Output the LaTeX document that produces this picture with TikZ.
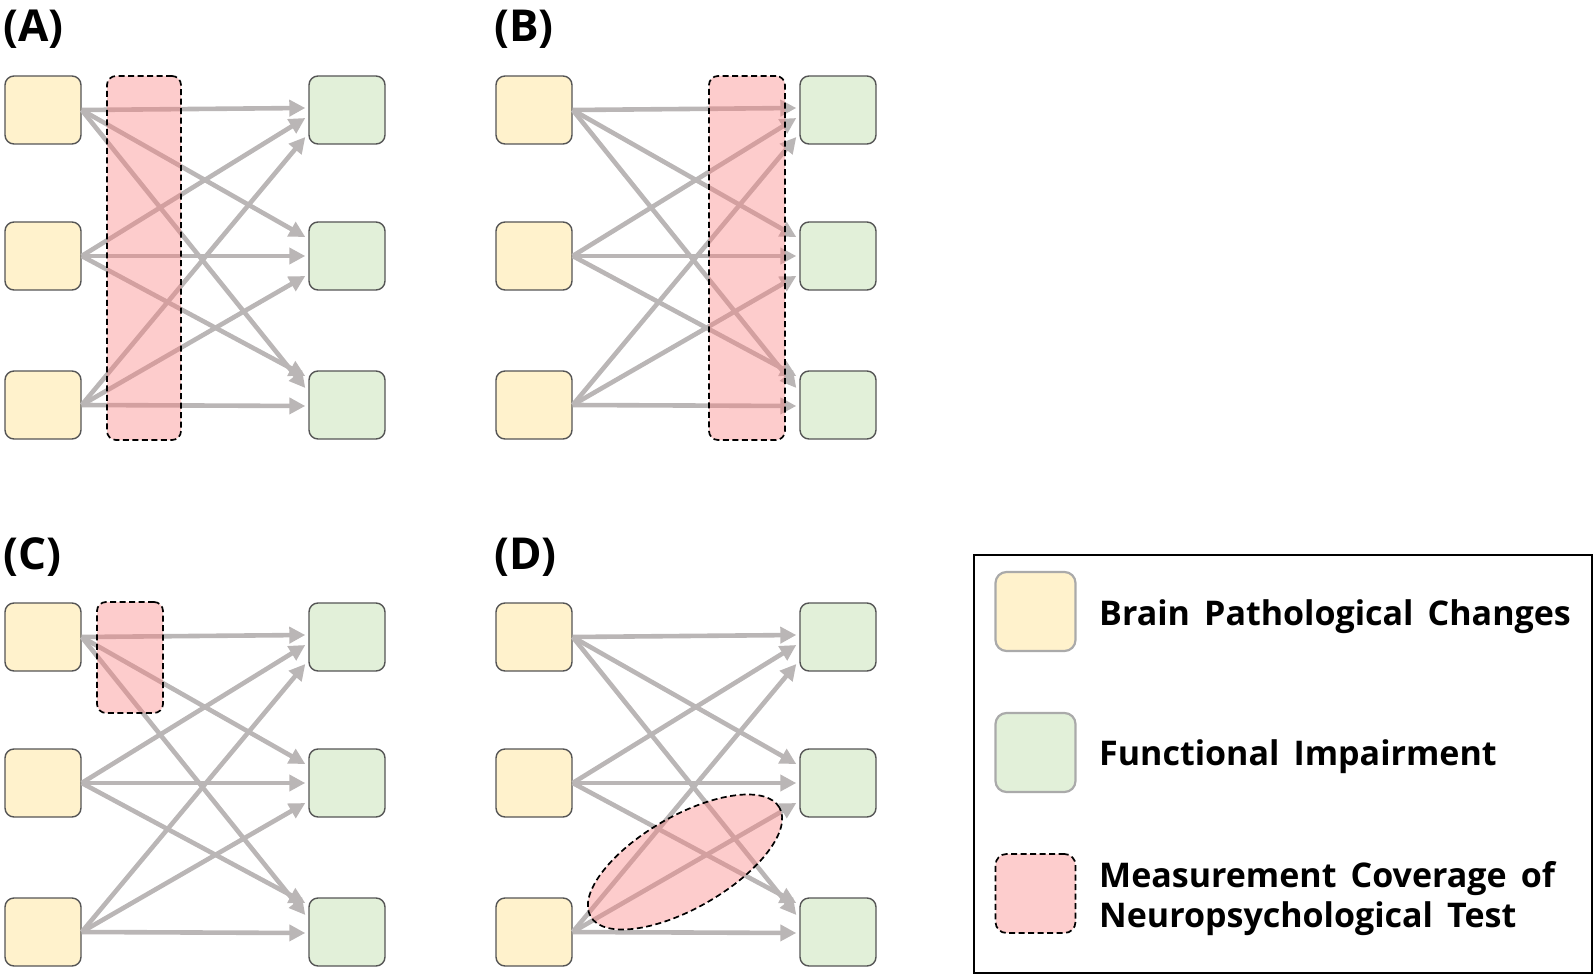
\documentclass[tikz,border=0pt]{standalone}
\usepackage{fontspec}
\setmainfont{Open Sans}[WordSpace=1.6]
\usetikzlibrary{arrows.meta,shapes.geometric}
\definecolor{boxY}{RGB}{255,242,204}
\definecolor{boxG}{RGB}{226,240,217}
\definecolor{boxEdge}{RGB}{85,85,85}
\definecolor{arrGray}{RGB}{186,182,182}
\definecolor{covRed}{RGB}{250,128,128}
\definecolor{covPink}{RGB}{253,205,205}
\definecolor{legEdge}{RGB}{170,170,170}
\begin{document}
\begin{tikzpicture}[x=1pt,y=-1pt,
  brainbox/.style={draw=boxEdge, line width=1.4pt, fill=boxY, rounded corners=9pt,
    minimum width=76pt, minimum height=68pt, inner sep=0pt},
  funcbox/.style={brainbox, fill=boxG},
  link/.style={draw=arrGray, line width=4.6pt, -{Triangle[length=16pt,width=16pt]}},
  coverage/.style={draw=black, line width=1.7pt, dash pattern=on 6pt off 3.5pt,
    fill=covRed, fill opacity=0.4, inner sep=0pt},
  paneltag/.style={font=\bfseries\fontsize{44}{44}\selectfont, anchor=base west, inner sep=0pt},
  legtext/.style={font=\bfseries\fontsize{34}{40}\selectfont, anchor=base west, inner sep=0pt},
  legbox/.style={draw=legEdge, line width=2.2pt, rounded corners=11pt,
    minimum width=80pt, minimum height=79pt, inner sep=0pt}
]
\useasboundingbox (0,0) rectangle (1595,976);

\foreach \p/\dx/\dy in {A/0/0,B/491/0,C/0/527,D/491/527}{
  \begin{scope}[shift={(\dx,\dy)}]
    \node[paneltag] (\p-tag) at (3,42) {(\p)};
    \node[brainbox] (\p-l1) at (43,110) {};
    \node[brainbox] (\p-l2) at (43,256) {};
    \node[brainbox] (\p-l3) at (43,405) {};
    \node[funcbox] (\p-r1) at (347,110) {};
    \node[funcbox] (\p-r2) at (347,256) {};
    \node[funcbox] (\p-r3) at (347,405) {};
    \draw[link] (\p-l1.east) -- ([xshift=-3pt,yshift=2pt]\p-r1.west);
    \draw[link] (\p-l1.east) -- ([xshift=-3pt,yshift=19pt]\p-r2.west);
    \draw[link] (\p-l1.east) -- ([xshift=-3pt,yshift=17pt]\p-r3.west);
    \draw[link] (\p-l2.east) -- ([xshift=-3pt,yshift=-8pt]\p-r1.west);
    \draw[link] (\p-l2.east) -- ([xshift=-3pt]\p-r2.west);
    \draw[link] (\p-l2.east) -- ([xshift=-3pt,yshift=29pt]\p-r3.west);
    \draw[link] (\p-l3.east) -- ([xshift=-3pt,yshift=-27pt]\p-r1.west);
    \draw[link] (\p-l3.east) -- ([xshift=-3pt,yshift=-20pt]\p-r2.west);
    \draw[link] (\p-l3.east) -- ([xshift=-3pt,yshift=-1pt]\p-r3.west);
  \end{scope}
}

% measurement coverage
\node[coverage, rounded corners=9pt, minimum width=74pt, minimum height=364pt] (covA) at (144,258) {};
\node[coverage, rounded corners=9pt, minimum width=76pt, minimum height=364pt] (covB) at (747,258) {};
\node[coverage, rounded corners=9pt, minimum width=66pt, minimum height=111pt] (covC) at (130,657.5) {};
\node[coverage, ellipse, minimum width=218pt, minimum height=92pt, rotate=30] (covD) at (685,862) {};

% legend
\node[draw, line width=1.5pt, minimum width=618pt, minimum height=418pt, inner sep=0pt,
  anchor=north west] (legend) at (973,554) {};
\node[legbox, fill=boxY] (leg-y) at (1035.5,611.5) {};
\node[legbox, fill=boxG] (leg-g) at (1035.5,752.5) {};
\node[legbox, draw=black, line width=1.7pt, dash pattern=on 6pt off 3.5pt, fill=covPink] (leg-r) at (1035.5,893.5) {};
\node[legtext] (leg-t1) at (1099,625) {Brain Pathological Changes};
\node[legtext] (leg-t2) at (1099,765) {Functional Impairment};
\node[legtext, align=left, anchor=west] (leg-t3) at (1099,899) {Measurement Coverage of\\Neuropsychological Test};
\end{tikzpicture}
\end{document}
